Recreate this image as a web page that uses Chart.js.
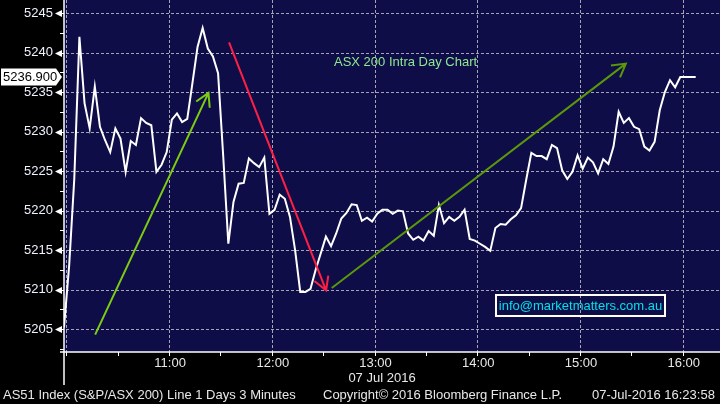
<!DOCTYPE html>
<html>
<head>
<meta charset="utf-8">
<script src="https://cdn.jsdelivr.net/npm/chart.js@4.4.0/dist/chart.umd.min.js"></script>
<style>
html, body { margin: 0; padding: 0; background: #000; }
canvas { display: block; }
</style>
</head>
<body>
<canvas id="chart" width="720" height="404"></canvas>
<script>
// AS51 index, 3 minute bars, minutes counted from 10:00
var startMinute = -2;
var stepMinutes = 3;
var prices = [
  5205.2, 5213.0, 5224.0, 5242.0, 5233.6, 5230.4, 5235.7, 5230.6, 5228.9, 5227.4,
  5230.4, 5229.1, 5224.9, 5228.8, 5228.3, 5231.7, 5231.1, 5230.8, 5224.9, 5225.8,
  5227.4, 5231.5, 5232.3, 5231.2, 5231.6, 5236.1, 5240.7, 5243.1, 5240.5, 5239.5,
  5237.4, 5226.9, 5215.8, 5221.1, 5223.4, 5223.5, 5226.6, 5226.0, 5225.5, 5226.7,
  5219.6, 5220.1, 5222.0, 5221.5, 5219.2, 5215.0, 5209.7, 5209.7, 5210.1, 5212.5,
  5214.6, 5216.7, 5215.5, 5217.1, 5219.0, 5219.7, 5220.8, 5220.7, 5218.7, 5219.1,
  5218.6, 5219.6, 5220.1, 5220.1, 5219.6, 5220.0, 5219.9, 5217.1, 5216.3, 5216.7,
  5216.2, 5217.4, 5216.8, 5220.7, 5218.4, 5219.2, 5218.7, 5219.2, 5220.1, 5216.4,
  5216.2, 5215.8, 5215.4, 5214.9, 5217.8, 5218.3, 5218.2, 5218.9, 5219.4, 5220.3,
  5223.9, 5227.3, 5226.9, 5226.9, 5226.5, 5228.3, 5227.9, 5225.1, 5224.0, 5224.9,
  5227.0, 5225.3, 5226.7, 5226.1, 5224.7, 5226.5, 5225.9, 5228.1, 5232.5, 5231.1,
  5231.7, 5230.6, 5230.3, 5228.1, 5227.6, 5228.7, 5232.7, 5235.0, 5236.5, 5235.6,
  5236.9, 5236.9, 5236.9, 5236.9
];
var lastPrice = 5236.9;

var hourTicks = [60, 120, 180, 240, 300, 360];
var hourLabels = ['11:00', '12:00', '13:00', '14:00', '15:00', '16:00'];
var gridMinutes = [0, 60, 120, 180, 240, 300, 360];
var priceTicks = [5205, 5210, 5215, 5220, 5225, 5230, 5235, 5240, 5245];

// hand drawn trend arrows [minute, price]
var arrowFrom = [[16.2, 5204.3], [94.4, 5241.3], [154.4, 5210.2]];
var arrowTo = [[82.4, 5234.9], [151.1, 5209.9], [326.2, 5238.6]];
var arrowColors = ['#7ccc12', '#ff1f45', '#5a9808'];

var points = prices.map(function (p, i) {
  return { x: startMinute + i * stepMinutes, y: p };
});

function drawArrow(ctx, x1, y1, x2, y2, color) {
  var ang = Math.atan2(y2 - y1, x2 - x1);
  var len = 15, spread = 0.52;
  ctx.strokeStyle = color;
  ctx.lineWidth = 2;
  ctx.setLineDash([]);
  ctx.beginPath();
  ctx.moveTo(x1, y1);
  ctx.lineTo(x2, y2);
  ctx.moveTo(x2 - len * Math.cos(ang - spread), y2 - len * Math.sin(ang - spread));
  ctx.lineTo(x2, y2);
  ctx.lineTo(x2 - len * Math.cos(ang + spread), y2 - len * Math.sin(ang + spread));
  ctx.stroke();
}

var bloomberg = {
  id: 'bloomberg',
  beforeDraw: function (chart) {
    var ctx = chart.ctx, a = chart.chartArea;
    var xs = chart.scales.x, ys = chart.scales.y;
    ctx.save();
    ctx.fillStyle = '#000';
    ctx.fillRect(0, 0, chart.width, chart.height);
    ctx.fillStyle = '#0f0d48';
    ctx.fillRect(a.left, a.top, a.right - a.left, a.bottom - a.top);
    ctx.strokeStyle = '#a4a4b4';
    ctx.lineWidth = 1;
    ctx.setLineDash([3, 2]);
    ctx.beginPath();
    priceTicks.forEach(function (v) {
      var y = Math.round(ys.getPixelForValue(v)) + 0.5;
      ctx.moveTo(a.left + 2, y); ctx.lineTo(a.right, y);
    });
    gridMinutes.forEach(function (m) {
      var x = Math.round(xs.getPixelForValue(m)) - 0.5;
      ctx.moveTo(x, a.top); ctx.lineTo(x, a.bottom);
    });
    ctx.stroke();
    ctx.restore();
  },
  afterDatasetsDraw: function (chart) {
    var ctx = chart.ctx, xs = chart.scales.x, ys = chart.scales.y;
    ctx.save();
    for (var i = 0; i < arrowFrom.length; i++) {
      drawArrow(ctx,
        xs.getPixelForValue(arrowFrom[i][0]), ys.getPixelForValue(arrowFrom[i][1]),
        xs.getPixelForValue(arrowTo[i][0]), ys.getPixelForValue(arrowTo[i][1]),
        arrowColors[i]);
    }
    // title note
    ctx.font = '13px "Liberation Sans", Arial, sans-serif';
    ctx.fillStyle = '#8fe88f';
    ctx.textBaseline = 'middle';
    ctx.textAlign = 'left';
    ctx.fillText('ASX 200 Intra Day Chart', 334, 62);
    // contact box
    ctx.strokeStyle = '#ffffff';
    ctx.lineWidth = 2;
    ctx.strokeRect(496, 295, 169, 21);
    ctx.font = '13px "Liberation Sans", Arial, sans-serif';
    ctx.fillStyle = '#00e0e8';
    ctx.textAlign = 'center';
    ctx.fillText('info@marketmatters.com.au', 580.5, 306);
    ctx.restore();
  },
  afterDraw: function (chart) {
    var ctx = chart.ctx, a = chart.chartArea;
    var xs = chart.scales.x, ys = chart.scales.y;
    ctx.save();
    ctx.setLineDash([]);
    ctx.strokeStyle = '#ffffff';
    ctx.fillStyle = '#ffffff';
    // axis lines
    ctx.lineWidth = 1.5;
    ctx.beginPath();
    ctx.moveTo(a.left, 0); ctx.lineTo(a.left, 385);
    ctx.moveTo(a.left - 4, a.bottom); ctx.lineTo(a.right, a.bottom);
    ctx.stroke();
    // minor price ticks
    ctx.lineWidth = 1;
    ctx.beginPath();
    for (var v = 5202.5; v < 5246; v += 5) {
      var y = Math.round(ys.getPixelForValue(v)) + 0.5;
      ctx.moveTo(a.left - 4, y); ctx.lineTo(a.left, y);
    }
    // half hour ticks
    for (var m = 0; m <= 360; m += 30) {
      var x = Math.round(xs.getPixelForValue(m)) - 0.5;
      ctx.moveTo(x, a.bottom); ctx.lineTo(x, a.bottom + 4);
    }
    ctx.stroke();
    // major price markers
    priceTicks.forEach(function (v) {
      var y = Math.round(ys.getPixelForValue(v)) + 0.5;
      ctx.beginPath();
      ctx.moveTo(a.left - 9, y);
      ctx.lineTo(a.left - 2, y - 3.5);
      ctx.lineTo(a.left - 2, y + 3.5);
      ctx.closePath();
      ctx.fill();
      ctx.fillRect(a.left - 3, y - 0.5, 3, 1);
    });
    // last price tag
    var ly = ys.getPixelForValue(lastPrice);
    ctx.beginPath();
    ctx.moveTo(1, ly - 8.5);
    ctx.lineTo(56, ly - 8.5);
    ctx.lineTo(62, ly);
    ctx.lineTo(56, ly + 8.5);
    ctx.lineTo(1, ly + 8.5);
    ctx.closePath();
    ctx.fill();
    ctx.fillStyle = '#000';
    ctx.font = '13px "Liberation Sans", Arial, sans-serif';
    ctx.textBaseline = 'middle';
    ctx.textAlign = 'left';
    ctx.fillText(lastPrice.toFixed(3), 3, ly + 0.5);
    // date and footer
    ctx.fillStyle = '#e8e8e8';
    ctx.textAlign = 'center';
    ctx.fillText('07 Jul 2016', 382, 378);
    ctx.textAlign = 'left';
    ctx.fillText('AS51 Index (S&P/ASX 200) Line 1 Days 3 Minutes', 3, 395);
    ctx.fillText('Copyright\u00A9 2016 Bloomberg Finance L.P.', 323, 395);
    ctx.fillText('07-Jul-2016 16:23:58', 592, 395);
    ctx.restore();
  }
};

var chart = new Chart(document.getElementById('chart'), {
  type: 'line',
  data: {
    datasets: [{
      data: points,
      borderColor: '#ffffff',
      borderWidth: 2,
      pointRadius: 0,
      tension: 0,
      fill: false
    }]
  },
  options: {
    responsive: false,
    animation: false,
    parsing: false,
    layout: { padding: 0 },
    plugins: { legend: { display: false }, tooltip: { enabled: false } },
    scales: {
      x: {
        type: 'linear',
        min: startMinute,
        max: 381.2,
        grid: { display: false, drawTicks: false },
        border: { display: false },
        afterFit: function (scale) {
          scale.height = 52;
          scale.paddingLeft = 0; scale.paddingRight = 0;
        },
        afterBuildTicks: function (scale) {
          scale.ticks = hourTicks.map(function (m) { return { value: m }; });
        },
        ticks: {
          autoSkip: false,
          maxRotation: 0,
          padding: 4,
          color: '#e8e8e8',
          font: { family: '"Liberation Sans", Arial, sans-serif', size: 13 },
          callback: function (value) { return hourLabels[hourTicks.indexOf(value)]; }
        }
      },
      y: {
        min: 5202.1,
        max: 5246.65,
        grid: { display: false, drawTicks: false },
        border: { display: false },
        afterFit: function (scale) {
          scale.width = 64;
          scale.paddingTop = 0; scale.paddingBottom = 0;
        },
        afterBuildTicks: function (scale) {
          scale.ticks = priceTicks.map(function (v) { return { value: v }; });
        },
        ticks: {
          padding: 11,
          color: '#eef2ff',
          font: { family: '"Liberation Sans", Arial, sans-serif', size: 13 },
          callback: function (value) { return String(value); }
        }
      }
    }
  },
  plugins: [bloomberg]
});
</script>
</body>
</html>
